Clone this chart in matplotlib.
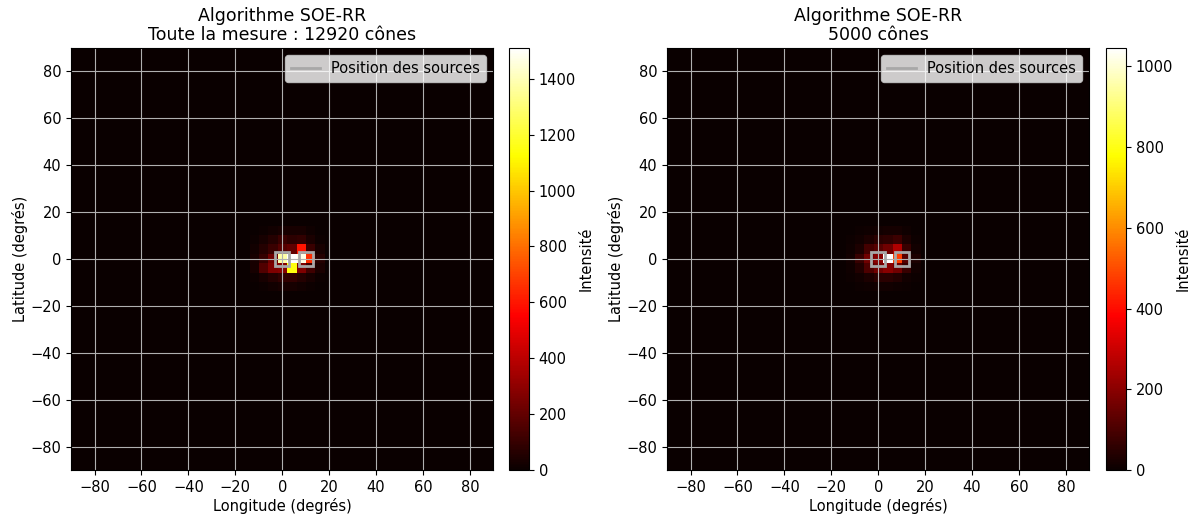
import numpy as np
import matplotlib
matplotlib.use("Agg")
import matplotlib.pyplot as plt
from matplotlib.lines import Line2D

plt.rcParams['axes.unicode_minus'] = True
plt.rcParams['font.family'] = 'DejaVu Sans'
plt.rcParams['font.size'] = 10

# 4-degree bins over [-90, 90]; only the central patch is non-zero
bin_size = 4
patch_lon_centers = [-12, -8, -4, 0, 4, 8, 12, 16]
patch_lat_centers = [12, 8, 4, 0, -4, -8, -12]

# Left panel: full measurement (rows = patch_lat_centers, cols = patch_lon_centers)
left_patch = [
    [0, 10, 20, 30, 30, 30, 15, 0],
    [10, 30, 60, 110, 80, 90, 40, 10],
    [20, 60, 110, 170, 200, 600, 110, 30],
    [30, 100, 230, 1380, 1510, 1470, 650, 60],
    [30, 160, 260, 280, 1150, 260, 120, 40],
    [10, 30, 60, 90, 90, 60, 30, 10],
    [0, 10, 20, 30, 30, 20, 10, 0],
]
# Right panel: 5000 cones
right_patch = [
    [0, 5, 10, 15, 20, 20, 10, 0],
    [5, 15, 30, 50, 60, 80, 30, 5],
    [10, 30, 90, 120, 160, 260, 70, 15],
    [15, 70, 160, 200, 1045, 480, 120, 30],
    [10, 40, 110, 160, 200, 160, 70, 15],
    [5, 15, 30, 50, 50, 40, 15, 5],
    [0, 5, 10, 15, 15, 10, 5, 0],
]

titles = ["Algorithme SOE-RR\nToute la mesure : 12920 cônes",
          "Algorithme SOE-RR\n5000 cônes"]
sources_lon = [0, 10]
sources_lat = [0, 0]
ticks = [-80, -60, -40, -20, 0, 20, 40, 60, 80]


def full_map(patch):
    n = int(round(180 / bin_size))
    grid = np.zeros((n, n))
    for r, lat in enumerate(patch_lat_centers):
        for c, lon in enumerate(patch_lon_centers):
            row = int(round((90 - bin_size / 2 - lat) / bin_size))
            col = int(round((lon + 90 - bin_size / 2) / bin_size))
            grid[row, col] = patch[r][c]
    return grid


fig = plt.figure(figsize=(11.98, 5.15), dpi=100)
ax_pos = [[0.0593, 0.087, 0.3525, 0.820], [0.5568, 0.087, 0.3525, 0.820]]
cb_pos = [[0.4249, 0.087, 0.0167, 0.820], [0.9232, 0.087, 0.0167, 0.820]]

for i, patch in enumerate([left_patch, right_patch]):
    ax = fig.add_axes(ax_pos[i])
    cax = fig.add_axes(cb_pos[i])
    data = full_map(patch)
    im = ax.imshow(data, cmap='hot', extent=[-90, 90, -90, 90], origin='upper',
                   vmin=0, vmax=data.max(), interpolation='nearest', aspect='auto')
    ax.plot(sources_lon, sources_lat, 's', ms=10.5, mfc='none', mec='#a8a8a8', mew=2)
    ax.set_xticks(ticks)
    ax.set_yticks(ticks)
    ax.set_xlim(-90, 90)
    ax.set_ylim(-90, 90)
    ax.grid(True, color='#b0b0b0', lw=0.8)
    ax.tick_params(labelsize=10.5)
    ax.set_xlabel("Longitude (degrés)", fontsize=10.5, labelpad=2)
    ax.set_ylabel("Latitude (degrés)", fontsize=10.5, labelpad=2)
    ax.set_title(titles[i], fontsize=12.5, linespacing=1.05)
    handle = Line2D([0], [0], color='#a8a8a8', lw=2)
    ax.legend([handle], ["Position des sources"], loc='upper right', fontsize=10.5)
    cb = fig.colorbar(im, cax=cax)
    cb.ax.tick_params(labelsize=10.5)
    cb.set_label("Intensité", fontsize=10.5, labelpad=2)

fig.savefig("out.png", dpi=100)
